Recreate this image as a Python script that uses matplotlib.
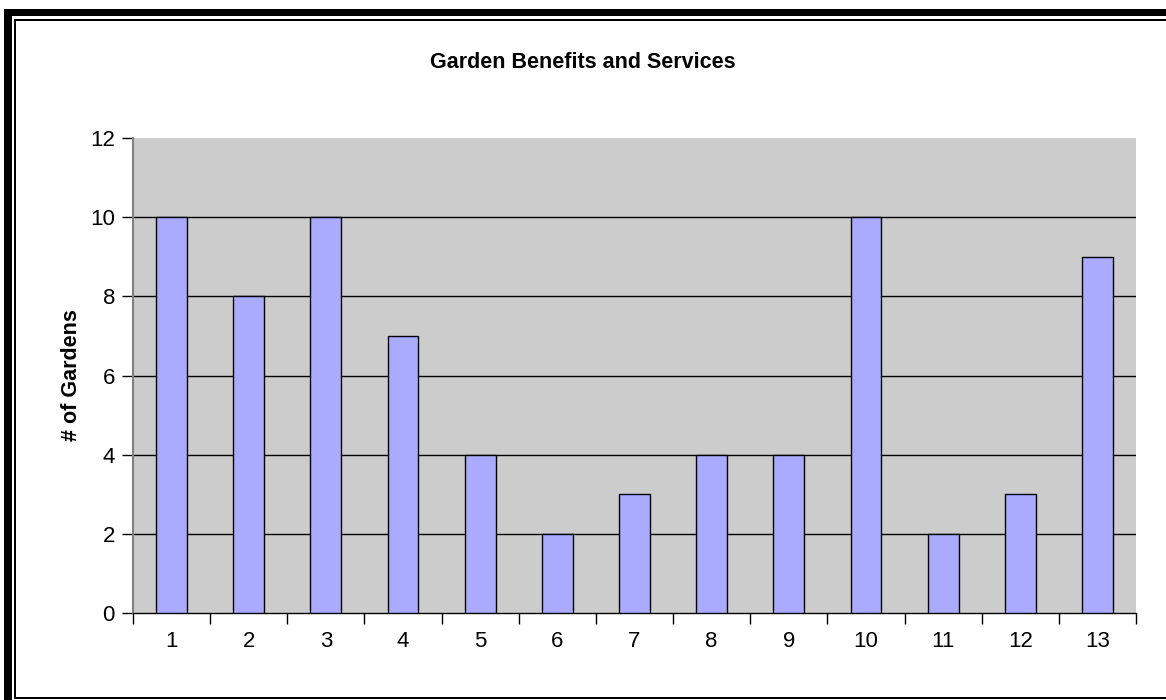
import numpy as np
import matplotlib.pyplot as plt
from matplotlib.patches import Rectangle

plt.rcParams['font.family'] = ['Liberation Sans', 'DejaVu Sans']

categories = [str(i) for i in range(1, 14)]
gardens = [10, 8, 10, 7, 4, 2, 3, 4, 4, 10, 2, 3, 9]
y_ticks = [0, 2, 4, 6, 8, 10, 12]

W, H = 1166, 700
fig = plt.figure(figsize=(W / 100, H / 100), dpi=100)
fig.patch.set_facecolor('white')

# double border (outer thick, inner thin), right side is cut off in the original
def px_rect(x0, y0, x1, y1):
    fig.patches.append(Rectangle((x0 / W, 1 - y1 / H), (x1 - x0) / W, (y1 - y0) / H,
                                 transform=fig.transFigure, facecolor='black',
                                 edgecolor='none', zorder=10))

px_rect(4, 9, 12, H)        # outer left
px_rect(4, 9, W, 16)        # outer top
px_rect(14, 19, 16, 699)    # inner left
px_rect(14, 19, W, 21)      # inner top
px_rect(14, 697, W, 699)    # inner bottom

ax = fig.add_axes([133 / W, 1 - 613 / H, (1136 - 133) / W, (613 - 138) / H])
ax.set_facecolor('#CCCCCC')

x = np.arange(1, len(categories) + 1)
ax.bar(x, gardens, width=0.4, color='#AAAAFF', edgecolor='black', linewidth=1, zorder=3)

ax.set_xlim(0.5, len(categories) + 0.5)
ax.set_ylim(0, 12)
ax.set_yticks(y_ticks)
ax.set_yticklabels([str(v) for v in y_ticks], fontsize=16)
for v in y_ticks[1:-1]:
    ax.axhline(v, color='black', linewidth=1, zorder=2)

ax.set_xticks(x)
ax.set_xticklabels(categories, fontsize=16)
ax.tick_params(axis='x', which='major', length=0, pad=13)
ax.set_xticks(np.arange(0.5, len(categories) + 1), minor=True)
ax.tick_params(axis='x', which='minor', length=8, width=1, color='black', direction='out')
ax.tick_params(axis='y', length=8, width=1, color='black', direction='out', pad=5)

for s in ['top', 'right']:
    ax.spines[s].set_visible(False)
ax.spines['left'].set_color('#808080')
ax.spines['left'].set_linewidth(1.5)
ax.spines['bottom'].set_color('black')
ax.spines['bottom'].set_linewidth(1)

ax.set_ylabel('# of Gardens', fontsize=15.5, fontweight='bold', labelpad=6)
fig.text(583 / W, 1 - 63 / H, 'Garden Benefits and Services', ha='center', va='center',
         fontsize=15.5, fontweight='bold')

fig.savefig('out.png', dpi=100)
